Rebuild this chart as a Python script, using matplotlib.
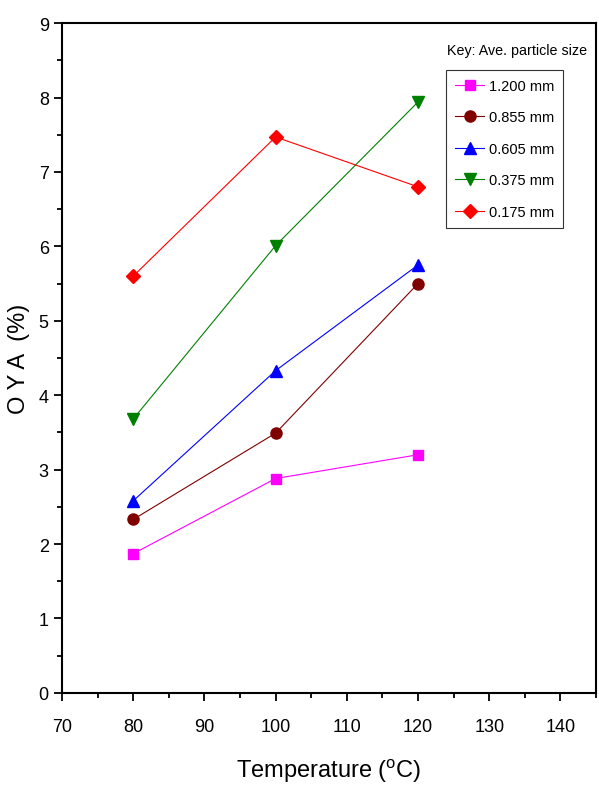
from matplotlib import pyplot as plt
from matplotlib.ticker import MultipleLocator

temperature = [80, 100, 120]
labels = ["1.200 mm", "0.855 mm", "0.605 mm", "0.375 mm", "0.175 mm"]
oya = [
    [1.87, 2.88, 3.20],
    [2.33, 3.49, 5.50],
    [2.58, 4.33, 5.75],
    [3.68, 6.01, 7.94],
    [5.60, 7.47, 6.80],
]
colors = ["#ff00ff", "#800000", "#0000ff", "#008000", "#ff0000"]
markers = ["s", "o", "^", "v", "D"]
sizes = [7, 8, 8, 8, 7.5]


def main():
    plt.rcParams["font.family"] = ["Liberation Sans", "DejaVu Sans"]
    fig = plt.figure(figsize=(5.99, 8.04), dpi=100)
    ax = fig.add_axes([0.1035, 0.137, 0.8915, 0.833])

    for vals, lab, c, m, s in zip(oya, labels, colors, markers, sizes):
        ax.plot(temperature, vals, color=c, marker=m, markersize=s,
                linewidth=0.8, label=lab)

    ax.set_xlim(70, 145)
    ax.set_ylim(0, 9)
    ax.xaxis.set_major_locator(MultipleLocator(10))
    ax.xaxis.set_minor_locator(MultipleLocator(5))
    ax.yaxis.set_major_locator(MultipleLocator(1))
    ax.yaxis.set_minor_locator(MultipleLocator(0.5))
    ax.tick_params(which="major", direction="out", length=6, width=1.3,
                   labelsize=13)
    ax.tick_params(axis="x", which="major", pad=12)
    ax.tick_params(which="minor", direction="out", length=3.5, width=1.3)
    for sp in ax.spines.values():
        sp.set_linewidth(1.5)

    ax.set_xlabel("Temperature ($\\mathregular{^oC}$)", fontsize=17)
    ax.xaxis.set_label_coords(0.5, -0.095)
    ax.set_ylabel("O Y A  (%)", fontsize=17)
    ax.yaxis.set_label_coords(-0.06, 0.5)

    fig.text(0.746, 0.937, "Key: Ave. particle size", fontsize=10.3,
             ha="left", va="center")
    leg = ax.legend(loc="upper left", bbox_to_anchor=(0.72, 0.93),
                    fontsize=10.5, frameon=True, fancybox=False,
                    edgecolor="black", handlelength=2.0, handletextpad=0.3,
                    borderpad=0.6, labelspacing=1.2, borderaxespad=0)
    leg.get_frame().set_linewidth(0.8)

    fig.savefig("out.png", dpi=100)


if __name__ == "__main__":
    main()
